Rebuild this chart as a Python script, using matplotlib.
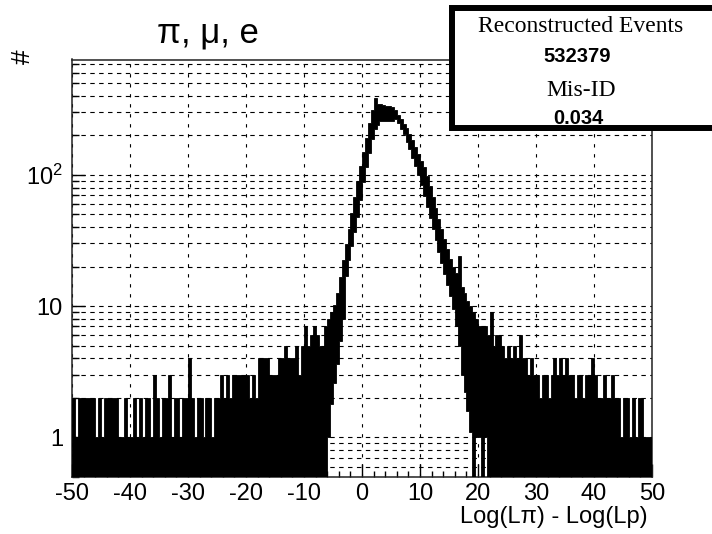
import numpy as np
import matplotlib
matplotlib.use('Agg')
import matplotlib.pyplot as plt
from matplotlib.patches import Rectangle
from matplotlib.ticker import FixedLocator, MultipleLocator, LogLocator, NullFormatter

# ---------------- data ----------------
bin_width = 0.5

# left tail: bins starting at -50.0 ... -6.5 (upper envelope of counts)
left_start = -50.0
left_tail_max = [2, 1, 2, 2, 2, 2, 2, 2, 1, 2,
                 1, 2, 2, 2, 2, 2, 1, 1, 2, 1,
                 1, 2, 1, 2, 1, 2, 2, 1, 3, 2,
                 1, 2, 2, 3, 1, 2, 2, 1, 2, 2,
                 4, 2, 1, 2, 2, 1, 2, 2, 1, 2,
                 2, 3, 2, 3, 2, 3, 3, 3, 3, 3,
                 3, 2, 3, 2, 4, 4, 4, 4, 3, 3,
                 3, 4, 4, 5, 4, 4, 4, 5, 3, 5,
                 7, 5, 6, 7, 6, 5, 5, 7]

# core: bins starting at -6.0 ... 21.5 (upper and lower envelope)
core_max = [8, 9, 10.2, 12.7, 16.8, 22.3, 29.5, 39, 51.4, 67.8,
            89.6, 116.6, 149, 192, 248, 310, 385, 345, 345, 340,
            335, 335, 330, 312, 287, 265, 245, 226, 206, 185,
            164, 145, 128, 114, 98, 82, 68, 56, 46, 38.6,
            32.6, 27.4, 23, 20, 18, 24, 14, 12.5, 11, 10,
            9, 8, 7, 7, 7, 6]
core_min = [1.0, 1.8, 2.6, 3.6, 5.4, 8, 16.9, 22.4, 28.8, 36.7,
            47.9, 64.5, 87.5, 115, 147, 188, 224, 240, 255, 258,
            258, 258, 255, 268, 246, 225, 204, 179, 156, 135,
            117, 100, 84, 69, 57, 47, 39, 31.7, 26, 21.4,
            17.6, 14.5, 12, 9.5, 7, 5, 3, 2.2, 1.6, 1.1,
            0, 1, 1, 0, 1, 0]

# right tail: bins starting at 22.0 ... 49.5 (upper envelope)
right_tail_max = [9, 5, 6, 6, 5, 4, 5, 4, 5, 4,
                  6, 4, 4, 3, 4, 3, 3, 2, 3, 3,
                  2, 3, 4, 3, 4, 3, 4, 3, 3, 2,
                  3, 3, 2, 3, 3, 4, 3, 2, 2, 3,
                  2, 2, 3, 2, 2, 1, 2, 2, 1, 2,
                  1, 2, 2, 1, 1, 1]

x_major = [-50, -40, -30, -20, -10, 0, 10, 20, 30, 40, 50]
x_labels = ['-50', '-40', '-30', '-20', '-10', '0', '10', '20', '30', '40', '50']
y_major = [1, 10, 100]
y_labels = ['1', '10', r'$\mathregular{10^{2}}$']

title = 'π, μ, e'
xlabel = 'Log(Lπ) - Log(Lp)'
ylabel = '#'
stats_names = ['Reconstructed Events', 'Mis-ID']
stats_values = ['532379', '0.034']

# ---------------- figure ----------------
plt.rcParams['font.family'] = ['Liberation Sans', 'DejaVu Sans']
plt.rcParams['mathtext.fontset'] = 'custom'
plt.rcParams['mathtext.rm'] = 'Liberation Sans'

W, H = 712, 534
fig = plt.figure(figsize=(W / 100, H / 100), dpi=100)
ax = fig.add_axes([72 / W, 57 / H, 580 / W, 417.5 / H])

counts_max = np.array(left_tail_max + core_max + right_tail_max, dtype=float)
counts_min = np.array([0] * len(left_tail_max) + core_min + [0] * len(right_tail_max), dtype=float)
edges = left_start + bin_width * np.arange(len(counts_max) + 1)
baseline = np.where(counts_min > 0, counts_min, 1e-3)

ax.set_yscale('log')
ax.stairs(counts_max, edges, baseline=baseline, fill=True,
          facecolor='black', edgecolor='black', linewidth=0.6, zorder=3)

ax.set_xlim(-50, 50)
ax.set_ylim(0.5, 755)

ax.xaxis.set_major_locator(FixedLocator(x_major))
ax.set_xticklabels(x_labels)
ax.xaxis.set_minor_locator(MultipleLocator(2))
ax.yaxis.set_major_locator(FixedLocator(y_major))
ax.set_yticklabels(y_labels)
ax.yaxis.set_minor_locator(LogLocator(base=10, subs=np.arange(2, 10)))
ax.yaxis.set_minor_formatter(NullFormatter())

ax.tick_params(axis='both', which='both', direction='in', color='black',
               top=False, right=False)
ax.tick_params(axis='x', which='major', length=9.5, width=1, labelsize=17, pad=4.5)
ax.tick_params(axis='x', which='minor', length=4.3, width=1)
ax.tick_params(axis='y', which='major', length=9.5, width=1, labelsize=17, pad=6.5)
ax.tick_params(axis='y', which='minor', length=5, width=1)

ax.yaxis.grid(True, which='both', linestyle=(0, (4, 4)), color='black', linewidth=0.8, zorder=1)
ax.xaxis.grid(True, which='major', linestyle=(0, (3, 6)), color='black', linewidth=0.8, zorder=1)
ax.set_axisbelow(True)

for s in ax.spines.values():
    s.set_linewidth(1.1)
    s.set_color('#222222')

fig.text(208 / W, 1 - 33 / H, title, fontsize=25, ha='center', va='center')
fig.text(648 / W, 1 - 517 / H, xlabel, fontsize=17, ha='right', va='center')
fig.text(23 / W, 1 - 57 / H, ylabel, fontsize=19, ha='center', va='center', rotation=90)

# statistics box
box = Rectangle((451.5 / W, 1 - 128 / H), (730 - 451.5) / W, (128 - 7.5) / H,
                transform=fig.transFigure, facecolor='white', edgecolor='black',
                linewidth=4.3, zorder=10)
fig.add_artist(box)
fig.text(581 / W, 1 - 27 / H, stats_names[0], fontsize=17, family='Liberation Serif',
         ha='center', va='center', zorder=11)
fig.text(577 / W, 1 - 57 / H, stats_values[0], fontsize=14.5, weight='bold',
         ha='center', va='center', zorder=11)
fig.text(581 / W, 1 - 90 / H, stats_names[1], fontsize=17, family='Liberation Serif',
         ha='center', va='center', zorder=11)
fig.text(578 / W, 1 - 118 / H, stats_values[1], fontsize=14.5, weight='bold',
         ha='center', va='center', zorder=11)

fig.savefig('out.png', dpi=100)
